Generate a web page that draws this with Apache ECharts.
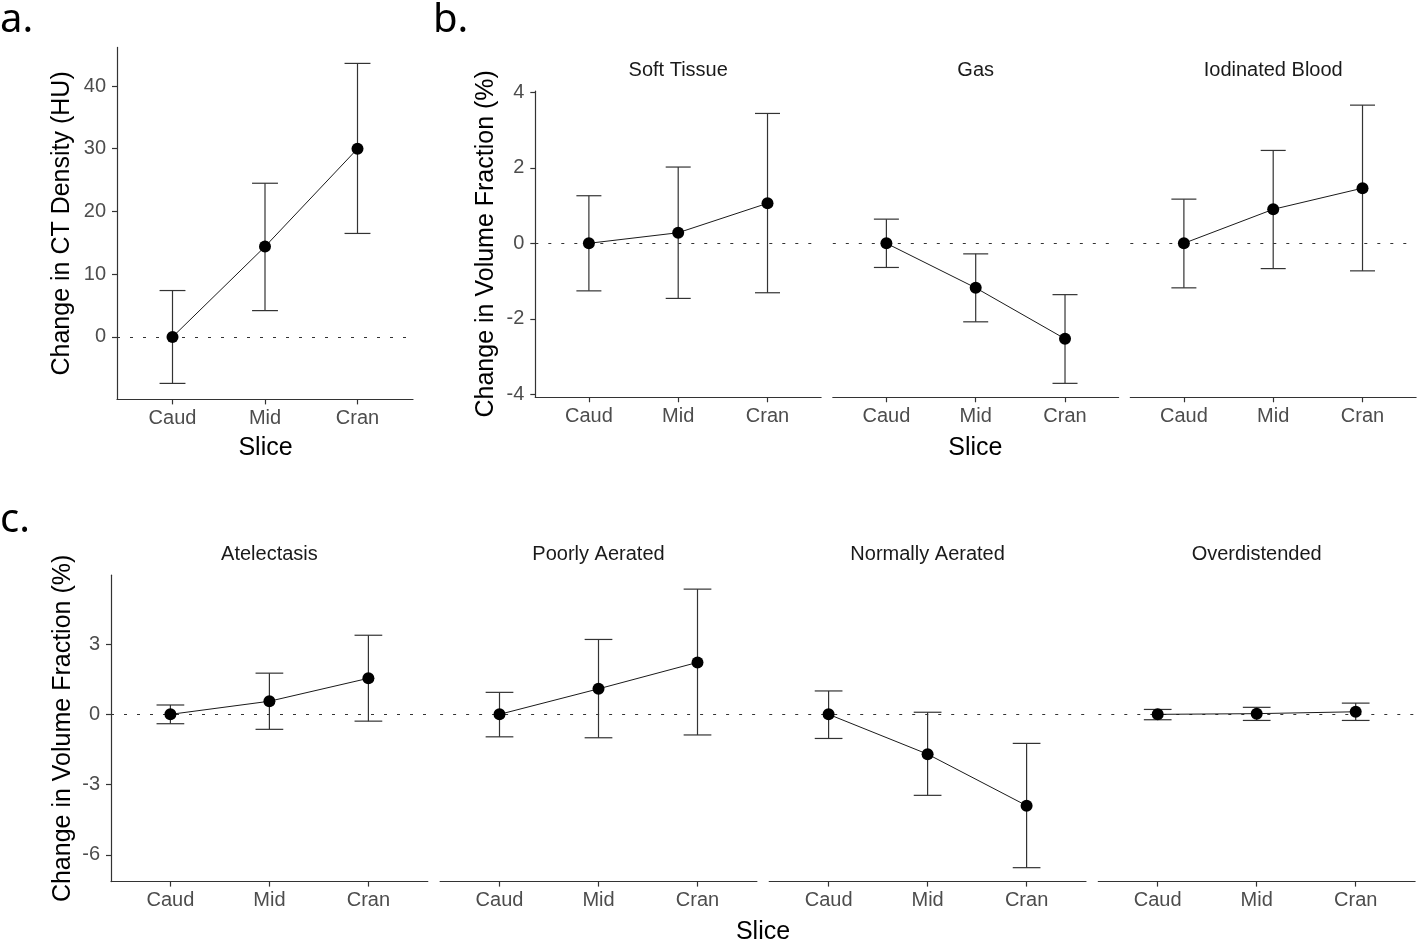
<!DOCTYPE html>
<html>
<head>
<meta charset="utf-8">
<script src="https://cdn.jsdelivr.net/npm/echarts@6/dist/echarts.min.js"></script>
<style>
html,body{margin:0;padding:0;background:#fff;}
#chart{width:1418px;height:944px;}
</style>
</head>
<body>
<div id="chart"></div>
<script>
// ---------- DATA ----------
const slices = ['Caud', 'Mid', 'Cran'];

// Panel a: change in CT density (HU)
const densityMean  = [0, 14.4, 30.0];
const densityLower = [-7.4, 4.2, 16.5];
const densityUpper = [7.4, 24.5, 43.6];
const densityTicks = [0, 10, 20, 30, 40];

// Panel b: change in volume fraction (%) by component
const compFacets = ['Soft Tissue', 'Gas', 'Iodinated Blood'];
const softMean  = [0, 0.28, 1.06];
const softLower = [-1.26, -1.46, -1.31];
const softUpper = [1.26, 2.02, 3.44];
const gasMean   = [0, -1.18, -2.53];
const gasLower  = [-0.64, -2.08, -3.71];
const gasUpper  = [0.64, -0.28, -1.36];
const bloodMean  = [0, 0.90, 1.46];
const bloodLower = [-1.18, -0.67, -0.73];
const bloodUpper = [1.17, 2.46, 3.66];
const compTicks = [-4, -2, 0, 2, 4];

// Panel c: change in volume fraction (%) by aeration
const aerFacets = ['Atelectasis', 'Poorly Aerated', 'Normally Aerated', 'Overdistended'];
const atelMean  = [0, 0.56, 1.54];
const atelLower = [-0.40, -0.64, -0.29];
const atelUpper = [0.40, 1.76, 3.38];
const poorMean  = [0, 1.09, 2.22];
const poorLower = [-0.96, -1.00, -0.88];
const poorUpper = [0.94, 3.20, 5.35];
const normMean  = [0, -1.70, -3.90];
const normLower = [-1.03, -3.46, -6.55];
const normUpper = [1.00, 0.09, -1.24];
const overMean  = [0, 0.03, 0.11];
const overLower = [-0.23, -0.26, -0.26];
const overUpper = [0.21, 0.30, 0.48];
const aerTicks = [-6, -3, 0, 3];

// ---------- BUILD ----------
const FONT = '"Liberation Sans", Arial, sans-serif';
const TICK_COL = '#4d4d4d';
const LINE_COL = '#333333';
const CAP = 0.14;
const sliceIdx = slices.map((s, i) => i + 1);

function ggRange(lowerArrs, upperArrs) {
  const all = [].concat(...lowerArrs, ...upperArrs);
  const lo = Math.min(...all), hi = Math.max(...all);
  const pad = (hi - lo) * 0.05;
  return [lo - pad, hi + pad];
}

const panels = [];
// panel a
panels.push({
  grid: {left: 117, top: 47.4, width: 296, height: 352},
  mean: densityMean, lower: densityLower, upper: densityUpper,
  range: ggRange([densityLower], [densityUpper]), ticks: densityTicks, showY: true
});
// panel b
const bRange = ggRange([softLower, gasLower, bloodLower], [softUpper, gasUpper, bloodUpper]);
const bSets = [[softMean, softLower, softUpper], [gasMean, gasLower, gasUpper], [bloodMean, bloodLower, bloodUpper]];
const bTop = 243.3 - bRange[1] * 37.75, bBot = 243.3 - bRange[0] * 37.75;
bSets.forEach((s, i) => {
  panels.push({
    grid: {left: 535.3 + i * 297.5, top: bTop, width: 285.8, height: bBot - bTop},
    mean: s[0], lower: s[1], upper: s[2], range: bRange, ticks: compTicks, showY: i === 0,
    strip: compFacets[i], stripY: 70
  });
});
// panel c
const cRange = ggRange([atelLower, poorLower, normLower, overLower], [atelUpper, poorUpper, normUpper, overUpper]);
const cSets = [[atelMean, atelLower, atelUpper], [poorMean, poorLower, poorUpper], [normMean, normLower, normUpper], [overMean, overLower, overUpper]];
const cTop = 575.2, cBot = 881.6;
cSets.forEach((s, i) => {
  panels.push({
    grid: {left: 111 + i * 329.1, top: cTop, width: 316.8, height: cBot - cTop},
    mean: s[0], lower: s[1], upper: s[2], range: cRange, ticks: aerTicks, showY: i === 0,
    strip: aerFacets[i], stripY: 554.5
  });
});

function errRender(params, api) {
  const x = api.value(0), lo = api.value(1), hi = api.value(2);
  const pLo = api.coord([x, lo]), pHi = api.coord([x, hi]);
  const l = api.coord([x - CAP, hi])[0], r = api.coord([x + CAP, hi])[0];
  const st = {stroke: LINE_COL, lineWidth: 1.2, fill: null};
  return {type: 'group', children: [
    {type: 'line', shape: {x1: pLo[0], y1: pLo[1], x2: pHi[0], y2: pHi[1]}, style: st},
    {type: 'line', shape: {x1: l, y1: pHi[1], x2: r, y2: pHi[1]}, style: st},
    {type: 'line', shape: {x1: l, y1: pLo[1], x2: r, y2: pLo[1]}, style: st}
  ]};
}

const grids = [], xAxes = [], yAxes = [], series = [], graphics = [];
panels.forEach((p, i) => {
  grids.push(Object.assign({containLabel: false, outerBoundsMode: 'none'}, p.grid));
  xAxes.push({
    type: 'value', gridIndex: i, min: 0.4, max: 3.6,
    axisLine: {show: true, onZero: false, lineStyle: {color: LINE_COL, width: 1.2}},
    axisTick: {show: true, length: 5, customValues: sliceIdx, lineStyle: {color: LINE_COL, width: 1.2}},
    axisLabel: {show: true, customValues: sliceIdx, margin: 9, color: TICK_COL, fontSize: 20, fontFamily: FONT,
      formatter: v => slices[Math.round(v) - 1] || ''},
    splitLine: {show: false}
  });
  yAxes.push({
    type: 'value', gridIndex: i, min: p.range[0], max: p.range[1], show: p.showY,
    axisLine: {show: true, onZero: false, lineStyle: {color: LINE_COL, width: 1.2}},
    axisTick: {show: true, length: 5, customValues: p.ticks, lineStyle: {color: LINE_COL, width: 1.2}},
    axisLabel: {show: true, customValues: p.ticks, margin: 11, color: TICK_COL, fontSize: 20, fontFamily: FONT,
      formatter: v => String(v)},
    splitLine: {show: false}
  });
  series.push({
    type: 'custom', xAxisIndex: i, yAxisIndex: i, z: 2, silent: true,
    renderItem: errRender,
    data: sliceIdx.map((x, k) => [x, p.lower[k], p.upper[k]])
  });
  series.push({
    type: 'line', xAxisIndex: i, yAxisIndex: i, z: 3, silent: true,
    symbol: 'circle', symbolSize: 12,
    itemStyle: {color: '#000'},
    lineStyle: {color: '#1a1a1a', width: 1},
    data: sliceIdx.map((x, k) => [x, p.mean[k]]),
    markLine: {
      silent: true, symbol: 'none', label: {show: false}, z: 1,
      lineStyle: {type: [3, 10], color: '#333', width: 1.2},
      data: [{yAxis: 0}]
    },
    animation: false
  });
  if (p.strip) {
    graphics.push({type: 'text', x: p.grid.left + p.grid.width / 2, y: p.stripY,
      style: {text: p.strip, font: '20px ' + FONT, fill: '#1a1a1a', textAlign: 'center', textVerticalAlign: 'middle'}});
  }
});

function title(txt, x, y, rot) {
  graphics.push({type: 'text', x: x, y: y, rotation: rot ? Math.PI / 2 : 0,
    style: {text: txt, font: '25px ' + FONT, fill: '#000', textAlign: 'center', textVerticalAlign: 'middle'}});
}
title('Change in CT Density (HU)', 62, 223.4, true);
title('Slice', 265.5, 448, false);
title('Change in Volume Fraction (%)', 486.5, 243.8, true);
title('Slice', 975.3, 448, false);
title('Change in Volume Fraction (%)', 63.5, 728.4, true);
title('Slice', 763, 932, false);

function letter(txt, x, y) {
  graphics.push({type: 'text', x: x, y: y,
    style: {text: txt, font: '40px "Noto Sans", "Open Sans", sans-serif', fill: '#000', textAlign: 'left', textVerticalAlign: 'middle'}});
}
letter('a.', 0, 21);
letter('b.', 433, 21);
letter('c.', 0, 521);

const chart = echarts.init(document.getElementById('chart'), null, {renderer: 'canvas'});
chart.setOption({
  animation: false,
  backgroundColor: '#fff',
  grid: grids, xAxis: xAxes, yAxis: yAxes, series: series,
  graphic: {elements: graphics}
});
</script>
</body>
</html>
